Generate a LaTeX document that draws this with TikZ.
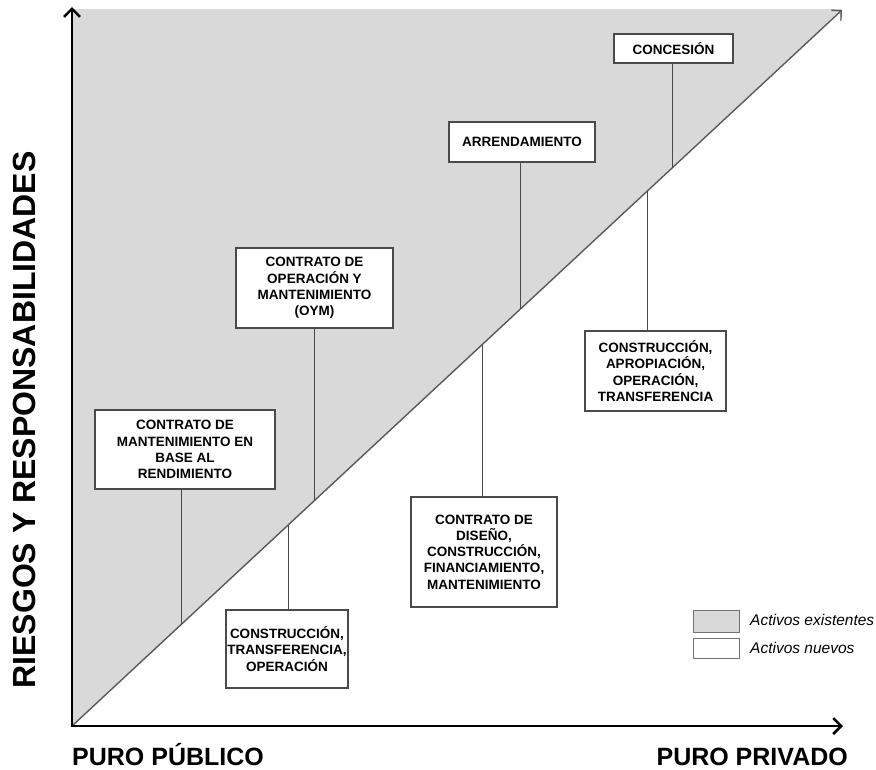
\documentclass[tikz,border=0pt]{standalone}
\usepackage{fontspec}
\setmainfont{Liberation Sans}
\usetikzlibrary{arrows.meta,calc}
\definecolor{greyfill}{HTML}{D9D9D9}
\definecolor{boxline}{HTML}{4A4A4A}
\tikzset{
  box/.style={draw=boxline, line width=1.1pt, fill=white, align=center, inner sep=0pt,
    font=\fontsize{13.5}{16.3}\selectfont\bfseries},
  conn/.style={draw=boxline, line width=0.9pt},
  axis/.style={line width=2.5pt, -{Straight Barb[length=8pt,width=16pt]}},
  diag/.style={draw=black!65, line width=1.4pt, -{Straight Barb[length=7pt,width=14pt]}},
  legbox/.style={draw=black!55, line width=0.8pt, minimum width=46pt, inner sep=0pt},
  legtext/.style={anchor=west, inner sep=0pt, font=\fontsize{15.5}{17}\selectfont\itshape},
  axlabel/.style={inner sep=0pt, font=\fontsize{25}{28}\selectfont\bfseries},
}
\begin{document}
\begin{tikzpicture}[x=1pt,y=-1pt]
\useasboundingbox (0,0) rectangle (876,769);
\coordinate (O) at (72,726);
\coordinate (T) at (842,10);
\coordinate (Ytop) at (72,7);
\coordinate (Xend) at (843,726);
% shaded triangle
\fill[greyfill] (O) -- (72,9) -- (842,9) -- cycle;
% diagonal
\draw[diag] (O) -- (T);
% axes
\draw[axis] (O) -- (Ytop);
\draw[axis] (71,726) -- (Xend);
% points on the diagonal
\coordinate (d1) at ($(O)!0.7792!(T)$);
\coordinate (d2) at ($(O)!0.5818!(T)$);
\coordinate (d3) at ($(O)!0.3143!(T)$);
\coordinate (d4) at ($(O)!0.1416!(T)$);
\coordinate (d5) at ($(O)!0.2805!(T)$);
\coordinate (d6) at ($(O)!0.5325!(T)$);
\coordinate (d7) at ($(O)!0.7468!(T)$);
% boxes
\node[box, minimum width=119pt, minimum height=29pt] (b1) at (673.5,48.5) {CONCESIÓN};
\node[box, minimum width=146pt, minimum height=40pt] (b2) at (522,142) {ARRENDAMIENTO};
\node[box, minimum width=157pt, minimum height=80pt] (b3) at (314.5,288) {CONTRATO DE\\OPERACIÓN Y\\MANTENIMIENTO\\(OYM)};
\node[box, minimum width=180pt, minimum height=79pt] (b4) at (185,449.5) {CONTRATO DE\\MANTENIMIENTO EN\\BASE AL\\RENDIMIENTO};
\node[box, minimum width=122pt, minimum height=78pt] (b5) at (287,649) {CONSTRUCCIÓN,\\TRANSFERENCIA,\\OPERACIÓN};
\node[box, minimum width=146pt, minimum height=110pt] (b6) at (484,552) {CONTRATO DE\\DISEÑO,\\CONSTRUCCIÓN,\\FINANCIAMIENTO,\\MANTENIMIENTO};
\node[box, minimum width=141pt, minimum height=80pt] (b7) at (655.5,371) {CONSTRUCCIÓN,\\APROPIACIÓN,\\OPERACIÓN,\\TRANSFERENCIA};
% connectors
\draw[conn] (b1.south -| d1) -- (d1);
\draw[conn] (b2.south -| d2) -- (d2);
\draw[conn] (b3.south -| d3) -- (d3);
\draw[conn] (b4.south -| d4) -- (d4);
\draw[conn] (b5.north -| d5) -- (d5);
\draw[conn] (b6.north -| d6) -- (d6);
\draw[conn] (b7.north -| d7) -- (d7);
% axis labels
\node[axlabel, anchor=base west] (xl) at (72,765) {PURO PÚBLICO};
\node[axlabel, anchor=base east] (xr) at (848,765) {PURO PRIVADO};
\node[rotate=90, inner sep=0pt, font=\fontsize{32}{35}\selectfont\bfseries] (yl) at (24,420) {RIESGOS Y RESPONSABILIDADES};
% legend
\node[legbox, fill=greyfill, minimum height=22pt] (l1) at (716,621) {};
\node[legbox, fill=white, minimum height=20pt] (l2) at (716,648) {};
\node[legtext] (t1) at (750,620) {Activos existentes};
\node[legtext] (t2) at (750,648) {Activos nuevos};
\end{tikzpicture}
\end{document}
